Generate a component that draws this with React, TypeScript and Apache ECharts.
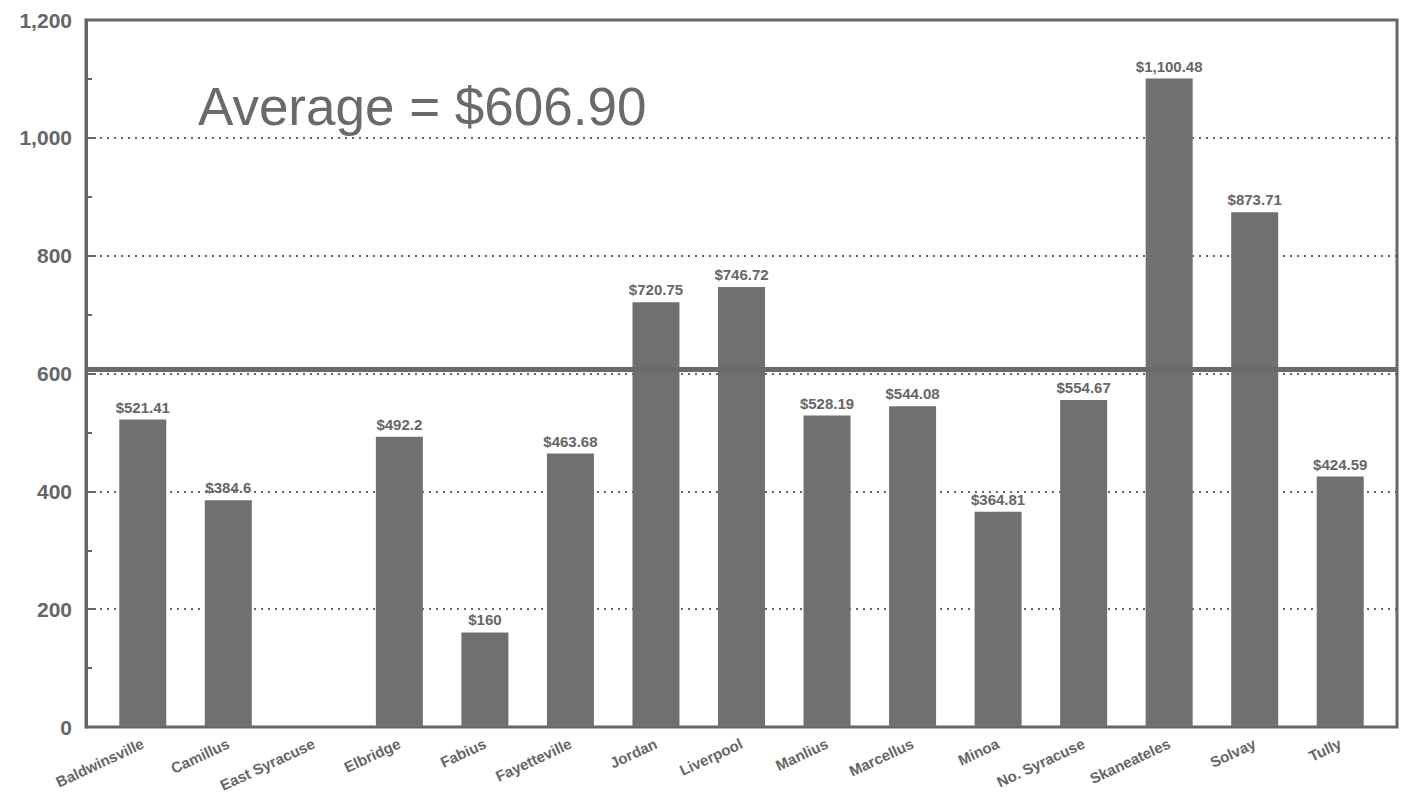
import React, { useEffect, useRef } from "react";
import * as echarts from "echarts";

const categories = [
  "Baldwinsville", "Camillus", "East Syracuse", "Elbridge", "Fabius", "Fayetteville",
  "Jordan", "Liverpool", "Manlius", "Marcellus", "Minoa", "No. Syracuse",
  "Skaneateles", "Solvay", "Tully",
];
const values: (number | null)[] = [
  521.41, 384.6, null, 492.2, 160, 463.68, 720.75, 746.72, 528.19, 544.08,
  364.81, 554.67, 1100.48, 873.71, 424.59,
];
const average = 606.9;
const yTickLabels = ["0", "200", "400", "600", "800", "1,000", "1,200"];

const GRAY = "#666666";
const FONT = "'Liberation Sans', Arial, Helvetica, sans-serif";

export default function App() {
  const ref = useRef<HTMLDivElement>(null);
  useEffect(() => {
    document.body.style.margin = "0";
    if (!ref.current) return;
    const chart = echarts.init(ref.current, undefined, { renderer: "svg" });
    const fmt = (v: number) =>
      "$" + v.toLocaleString("en-US", { maximumFractionDigits: 2 });
    chart.setOption({
      animation: false,
      backgroundColor: "#ffffff",
      grid: [
        { left: 86, right: 10, top: 20, bottom: 67, show: true, borderColor: GRAY, borderWidth: 3, backgroundColor: "transparent" },
        { left: 100, right: 24, top: 20, bottom: 67 },
      ],
      xAxis: [
        { type: "category", gridIndex: 0, data: categories, show: false },
        {
          type: "category",
          gridIndex: 1,
          data: categories,
          axisLine: { show: false },
          axisTick: { show: false },
          axisLabel: {
            interval: 0,
            rotate: 25,
            margin: 16,
            color: GRAY,
            fontFamily: FONT,
            fontWeight: "bold",
            fontSize: 15,
          },
        },
      ],
      yAxis: [
        {
          type: "value",
          gridIndex: 0,
          min: 0,
          max: 1200,
          interval: 200,
          axisLine: { show: true, lineStyle: { color: GRAY, width: 3 } },
          axisTick: { show: true, inside: true, length: 10, lineStyle: { color: GRAY, width: 2 } },
          minorTick: { show: true, splitNumber: 2, length: 6, lineStyle: { color: GRAY, width: 2 } },
          splitLine: { show: true, lineStyle: { color: GRAY, type: [2, 5], width: 2 } },
          axisLabel: {
            margin: 14,
            color: GRAY,
            fontFamily: FONT,
            fontWeight: "bold",
            fontSize: 21,
            formatter: (v: number) => yTickLabels[Math.round(v / 200)] ?? "",
          },
        },
        { type: "value", gridIndex: 1, min: 0, max: 1200, interval: 200, show: false },
      ],
      graphic: [
        {
          type: "text",
          left: 198,
          top: 80,
          style: {
            text: "Average = $606.90",
            fill: "#6a6a6a",
            font: `53px ${FONT}`,
          },
        },
      ],
      series: [
        {
          type: "bar",
          xAxisIndex: 1,
          yAxisIndex: 1,
          data: values,
          barWidth: 47,
          itemStyle: { color: "#707070" },
          label: {
            show: true,
            position: "top",
            distance: 5,
            color: GRAY,
            fontFamily: FONT,
            fontWeight: "bold",
            fontSize: 15,
            formatter: (p: any) => (p.value == null ? "" : fmt(p.value)),
          },
          z: 3,
        },
        {
          type: "line",
          xAxisIndex: 0,
          yAxisIndex: 0,
          data: [],
          markLine: {
            symbol: "none",
            silent: true,
            label: { show: false },
            lineStyle: { color: "#6a6a6a", width: 5, type: "solid" },
            data: [{ yAxis: average }],
          },
          z: 4,
        },
      ],
    });
    return () => chart.dispose();
  }, []);
  return <div ref={ref} style={{ width: 1407, height: 794 }} />;
}
